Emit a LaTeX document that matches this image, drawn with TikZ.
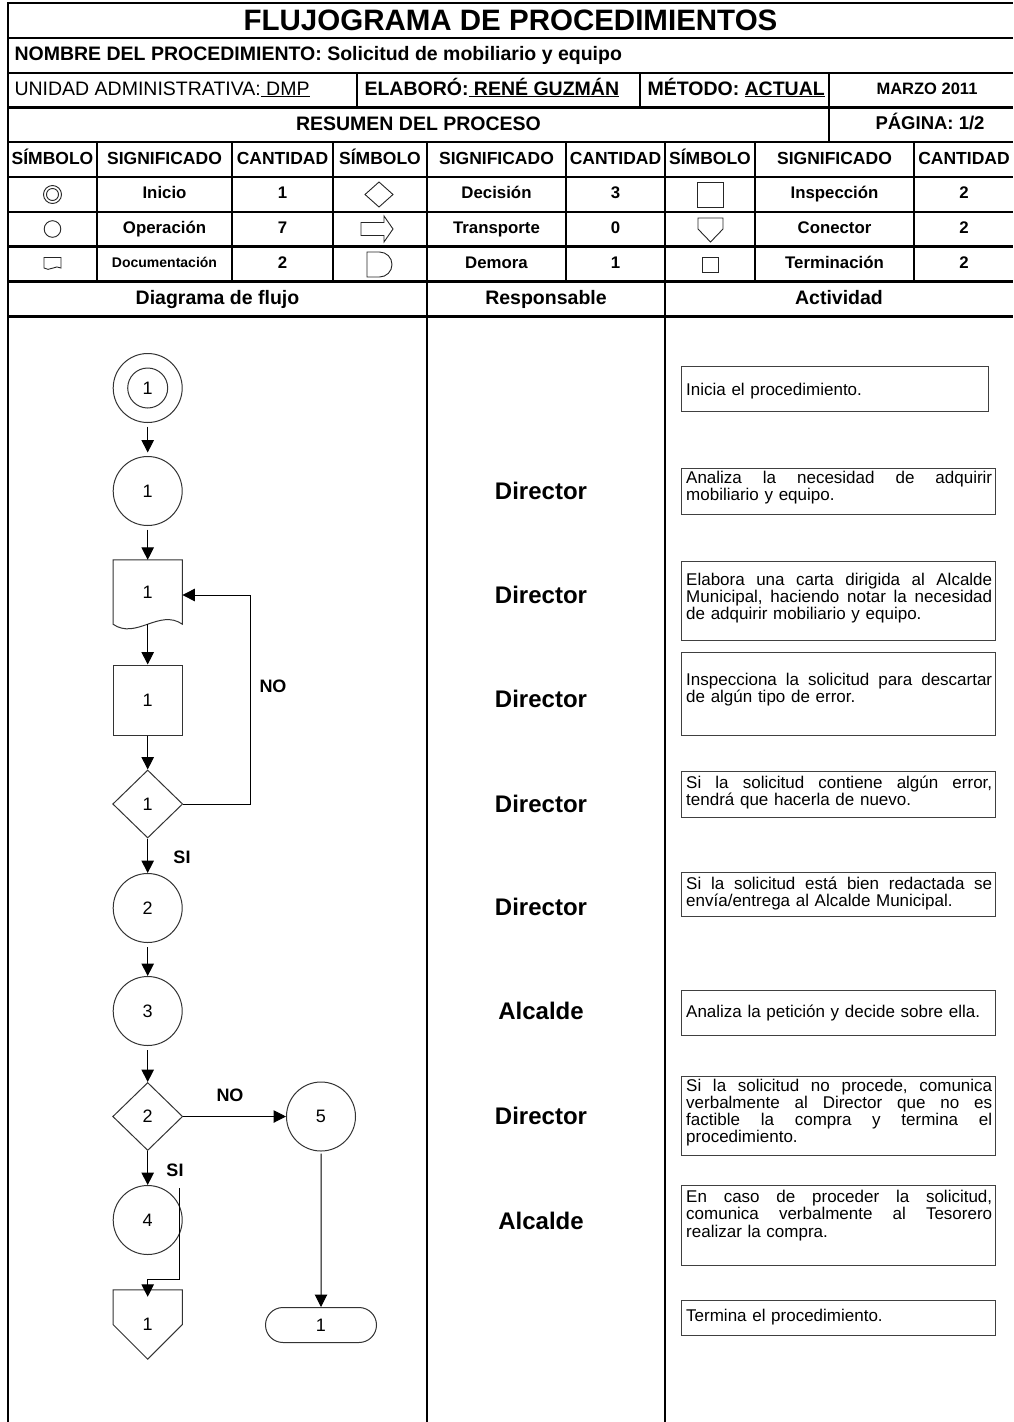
\documentclass[tikz,border=0pt]{standalone}
\usepackage{fontspec}
\setmainfont{Liberation Sans}
\usetikzlibrary{arrows.meta,shapes.geometric,shapes.misc,calc}
\setlength{\lineskiplimit}{-30pt}
\newcommand\actstrut{\leavevmode\vrule height 13pt depth 0pt width 0pt}
% a fully justified line: every interword space stretches equally
\newcommand\jline[1]{\leavevmode\hbox to 306pt{\frenchspacing\spaceskip=0.278em plus 1fil\relax #1}}

\begin{document}
\begin{tikzpicture}[x=1pt,y=-1pt,
  rule/.style={line width=2.4pt},
  icon/.style={line width=0.9pt,draw=black!85},
  fc/.style={line width=1pt,draw=black!80},
  arr/.style={line width=1pt,draw=black,-{Triangle[length=12.5pt,width=12.5pt]}},
  ttl/.style={font=\fontsize{29.5}{31}\selectfont\bfseries},
  hd/.style={font=\fontsize{19.5}{21}\selectfont\bfseries,text height=14.2pt,text depth=4.1pt},
  hdreg/.style={font=\fontsize{19.5}{21}\selectfont,text height=14.2pt,text depth=4.1pt},
  sm/.style={font=\fontsize{16.5}{18}\selectfont\bfseries,text height=12pt,text depth=3.5pt},
  th/.style={font=\fontsize{17.5}{19}\selectfont\bfseries,text height=12.8pt,text depth=3.7pt},
  td/.style={font=\fontsize{16.8}{18}\selectfont\bfseries,text height=12.3pt,text depth=3.5pt},
  tds/.style={font=\fontsize{14}{16}\selectfont\bfseries,text height=10.2pt,text depth=2.9pt},
  resp/.style={font=\fontsize{24}{26}\selectfont\bfseries},
  lbl/.style={font=\fontsize{18}{20}\selectfont\bfseries},
  num/.style={font=\fontsize{18}{20}\selectfont},
  opc/.style={circle,fc,minimum size=69pt,inner sep=0pt,num},
  decn/.style={diamond,fc,minimum width=70pt,minimum height=68pt,inner sep=0pt,num},
  inspn/.style={rectangle,fc,minimum width=69pt,minimum height=70pt,inner sep=0pt,num},
  docn/.style={rectangle,minimum width=69pt,minimum height=64pt,inner sep=0pt,num},
  conn/.style={rectangle,minimum width=69pt,minimum height=69pt,inner sep=0pt,num},
  termn/.style={rounded rectangle,fc,minimum width=111pt,minimum height=35pt,inner sep=0pt,num},
  abox/.style={line width=1pt,draw=black!75},
  atext/.style={anchor=north west,inner sep=0pt,text width=306pt,align=left,
    font=\fontsize{17}{17.2}\selectfont}
]
\useasboundingbox (0,0) rectangle (1013,1422);
\fill[white] (0,0) rectangle (1013,1422);

% ---------- table rules ----------
\draw[rule] (8,1422) -- (8,3) -- (1013,3);
\foreach \yy in {38,73,107.5,142,177,212,246.5,281.5,316.5}
  \draw[rule] (8,\yy) -- (1013,\yy);
\draw[rule] (357,73) -- (357,107.5);
\draw[rule] (640,73) -- (640,107.5);
\draw[rule] (829,73) -- (829,142);
\foreach \xx in {97,232,333,427,566,665,755,914}
  \draw[rule] (\xx,142) -- (\xx,281.5);
\draw[rule] (427,281.5) -- (427,1422);
\draw[rule] (665,281.5) -- (665,1422);

% ---------- header ----------
\node[ttl] (title) at (510.5,20.5) {FLUJOGRAMA DE PROCEDIMIENTOS};
\node[hd,anchor=west] (nombre) at (11,55.5) {NOMBRE DEL PROCEDIMIENTO: Solicitud de mobiliario y equipo};
\node[hdreg,anchor=west] (unidad) at (11,90) {UNIDAD ADMINISTRATIVA:\underline{\ DMP}};
\node[hd,anchor=west] (elab) at (361,90) {ELABORÓ:\underline{\ RENÉ GUZMÁN}};
\node[hd,anchor=west] (metodo) at (644,90) {MÉTODO: \underline{ACTUAL}};
\node[sm] (fecha) at (927,90) {MARZO 2011};
\node[hd] (resumen) at (418.5,125) {RESUMEN DEL PROCESO};
\node[sm,font=\fontsize{18.5}{20}\selectfont\bfseries] (pagina) at (930,125) {PÁGINA: 1/2};

% ---------- symbol summary ----------
\node[th] (hs1) at (52.5,159.5) {SÍMBOLO};
\node[th] (hg1) at (164.5,159.5) {SIGNIFICADO};
\node[th] (hc1) at (282.5,159.5) {CANTIDAD};
\node[th] (hs2) at (380,159.5) {SÍMBOLO};
\node[th] (hg2) at (496.5,159.5) {SIGNIFICADO};
\node[th] (hc2) at (615.5,159.5) {CANTIDAD};
\node[th] (hs3) at (710,159.5) {SÍMBOLO};
\node[th] (hg3) at (834.5,159.5) {SIGNIFICADO};
\node[th] (hc3) at (964,159.5) {CANTIDAD};

\node[td] (g11) at (164.5,194.5) {Inicio};
\node[td] (c11) at (282.5,194.5) {1};
\node[td] (g21) at (496.5,194.5) {Decisión};
\node[td] (c21) at (615.5,194.5) {3};
\node[td] (g31) at (834.5,194.5) {Inspección};
\node[td] (c31) at (964,194.5) {2};

\node[td] (g12) at (164.5,229) {Operación};
\node[td] (c12) at (282.5,229) {7};
\node[td] (g22) at (496.5,229) {Transporte};
\node[td] (c22) at (615.5,229) {0};
\node[td] (g32) at (834.5,229) {Conector};
\node[td] (c32) at (964,229) {2};

\node[tds] (g13) at (164.5,264) {Documentación};
\node[td] (c13) at (282.5,264) {2};
\node[td] (g23) at (496.5,264) {Demora};
\node[td] (c23) at (615.5,264) {1};
\node[td] (g33) at (834.5,264) {Terminación};
\node[td] (c33) at (964,264) {2};

% symbol icons
\draw[icon] (52.5,194.5) circle[radius=9pt];
\draw[icon] (52.5,194.5) circle[radius=6pt];
\draw[icon] (52.5,229) circle[radius=8.3pt];
\draw[icon] (44,257.5) -- (44,268) .. controls (49,272.5) and (56,264) .. (61,268) -- (61,257.5) -- cycle;
\draw[icon] (379,182) -- (393,194.5) -- (379,207) -- (365,194.5) -- cycle;
\draw[icon] (361,222.5) -- (384,222.5) -- (384,216) -- (393,229) -- (384,242) -- (384,235.5) -- (361,235.5) -- cycle;
\draw[icon] (367,252) -- (379.5,252) arc[start angle=-90,end angle=90,radius=12.5] -- (367,277) -- cycle;
\draw[icon] (697,182.5) rectangle (723,207);
\draw[icon] (698,218) -- (723,218) -- (723,229) -- (710.5,242) -- (698,229) -- cycle;
\draw[icon] (702,257.5) rectangle (718,272);

% column titles
\node[hd] (colA) at (217.5,299) {Diagrama de flujo};
\node[hd] (colB) at (546,299) {Responsable};
\node[hd] (colC) at (839,299) {Actividad};

% ---------- flow diagram ----------
\node[opc] (start) at (147.7,388) {};
\node[opc,minimum size=40pt] (startin) at (start) {1};
\node[opc] (op1) at (147.7,491) {1};
\node[docn] (doc1) at (147.7,592) {1};
\draw[fc] (doc1.north west) -- (doc1.south west)
  .. controls ($(doc1.south west)+(23,16)$) and ($(doc1.south east)+(-23,-16)$) .. (doc1.south east)
  -- (doc1.north east) -- cycle;
\node[inspn] (insp1) at (147.7,700) {1};
\node[decn] (dec1) at (147.7,804) {1};
\node[opc] (op2) at (147.7,908) {2};
\node[opc] (op3) at (147.7,1011) {3};
\node[decn] (dec2) at (147.7,1116.5) {2};
\node[opc] (op5) at (321,1116.5) {5};
\node[opc] (op4) at (147.7,1220) {4};
\node[conn] (con1) at (147.7,1324.5) {1};
\draw[fc] (con1.north west) -- (con1.west) -- (con1.south) -- (con1.east) -- (con1.north east) -- cycle;
\node[termn] (end1) at (321,1325) {1};

\draw[arr,shorten <=3.5pt,shorten >=3.5pt] (start) -- (op1);
\draw[arr,shorten <=3.5pt] (op1) -- (doc1);
\draw[arr] (doc1.south) -- (insp1);
\draw[arr] (insp1) -- (dec1);
\draw[arr] (dec1) -- (op2);
\draw[arr,shorten <=4pt] (op2) -- (op3);
\draw[arr,shorten <=4pt] (op3) -- (dec2);
\draw[arr] (dec2) -- (op4);
\draw[arr] (dec2) -- (op5);
\draw[arr,shorten <=2pt] (op5) -- (end1);
\coordinate (back) at (250,595);
\draw[arr] (dec1.east) -| (back) -- (back -| doc1.east);
\coordinate (tail4) at (179.3,1188);
\coordinate (bend4) at (179.3,1279);
\draw[arr] (tail4) -- (bend4) -| ([yshift=-7pt]con1.north);

\node[lbl] (no1) at (273,686) {NO};
\node[lbl] (si1) at (182,857) {SI};
\node[lbl] (no2) at (230,1095) {NO};
\node[lbl] (si2) at (175,1170) {SI};

% ---------- responsible ----------
\node[resp] (r1) at (541,491) {Director};
\node[resp] (r2) at (541,595) {Director};
\node[resp] (r3) at (541,699) {Director};
\node[resp] (r4) at (541,804) {Director};
\node[resp] (r5) at (541,907) {Director};
\node[resp] (r6) at (541,1011) {Alcalde};
\node[resp] (r7) at (541,1116) {Director};
\node[resp] (r8) at (541,1221) {Alcalde};

% ---------- activities ----------
\draw[abox] (681,366) rectangle (988,411);
\node[atext] (a1) at (686,382.5) {\actstrut Inicia el procedimiento.};
\draw[abox] (681,468) rectangle (995,514);
\node[atext] (a2) at (686,470.5) {\actstrut\jline{Analiza la necesidad de adquirir}\\mobiliario y equipo.};
\draw[abox] (681,561) rectangle (995,640);
\node[atext] (a3) at (686,572) {\actstrut\jline{Elabora una carta dirigida al Alcalde}\\\jline{Municipal, haciendo notar la necesidad}\\de adquirir mobiliario y equipo.};
\draw[abox] (681,652) rectangle (995,735);
\node[atext] (a4) at (686,672) {\actstrut\jline{Inspecciona la solicitud para descartar}\\de algún tipo de error.};
\draw[abox] (681,771) rectangle (995,817);
\node[atext] (a5) at (686,775) {\actstrut\jline{Si la solicitud contiene algún error,}\\tendrá que hacerla de nuevo.};
\draw[abox] (681,872) rectangle (995,916);
\node[atext] (a6) at (686,876) {\actstrut\jline{Si la solicitud está bien redactada se}\\envía/entrega al Alcalde Municipal.};
\draw[abox] (681,990) rectangle (995,1035);
\node[atext] (a7) at (686,1004.5) {\actstrut Analiza la petición y decide sobre ella.};
\draw[abox] (681,1076) rectangle (995,1155);
\node[atext] (a8) at (686,1078) {\actstrut\jline{Si la solicitud no procede, comunica}\\\jline{verbalmente al Director que no es}\\\jline{factible la compra y termina el}\\procedimiento.};
\draw[abox] (681,1185) rectangle (995,1265);
\node[atext] (a9) at (686,1189.5) {\actstrut\jline{En caso de proceder la solicitud,}\\\jline{comunica verbalmente al Tesorero}\\realizar la compra.};
\draw[abox] (681,1300) rectangle (995,1335);
\node[atext] (a10) at (686,1308) {\actstrut Termina el procedimiento.};
\end{tikzpicture}
\end{document}
